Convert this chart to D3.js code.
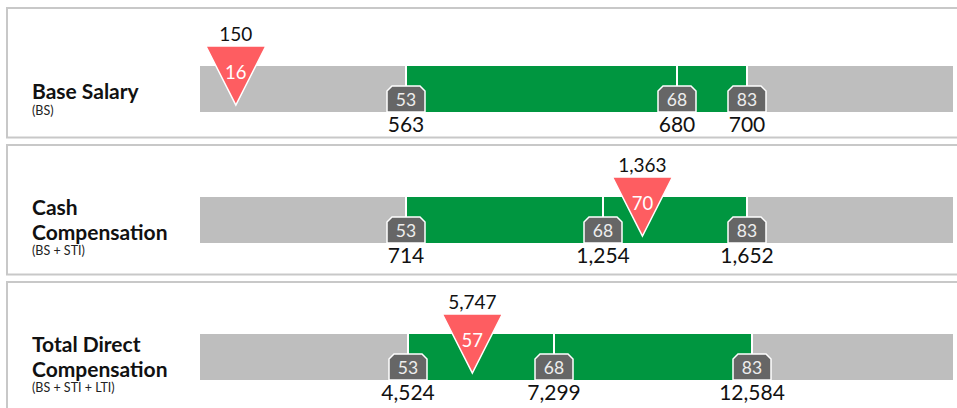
<!DOCTYPE html>
<html>
<head>
<meta charset="utf-8">
<script src="https://cdn.jsdelivr.net/npm/d3@7"></script>
<style>
  body { margin: 0; background: #fff; }
  svg { display: block; font-family: Lato, "Noto Sans", sans-serif; }
</style>
</head>
<body>
<div id="app"></div>
<script>
const titles = [["Base Salary"], ["Cash", "Compensation"], ["Total Direct", "Compensation"]];
const subtitles = ["(BS)", "(BS + STI)", "(BS + STI + LTI)"];
const percentiles = [53, 68, 83];
const marketValues = [
  [563, 680, 700],
  [714, 1254, 1652],
  [4524, 7299, 12584]
];
const scaleMin = [63, 147, 569];
const scaleMax = [759, 2219, 17950];
const employeeValues = [150, 1363, 5747];
const employeePercentiles = [16, 70, 57];

const width = 957;
const height = 408;
const barLeft = 200;
const barWidth = 753;
const barHeight = 46;
// where the P53 / P68 / P83 knots of each panel's scale sit along the bar
const knotX = [[206, 477, 547], [206, 403, 547], [208, 354, 552]];
const fmt = d3.format(",");

const svg = d3.select("#app").append("svg").attr("width", width).attr("height", height);

titles.forEach((lines, i) => {
  const top = 8 + i * 137;
  const single = lines.length === 1;
  const barTop = top + (single ? 58 : 52);
  const barBottom = barTop + barHeight;

  const x = d3.scaleLinear()
    .domain([scaleMin[i], ...marketValues[i], scaleMax[i]])
    .range([0, ...knotX[i], barWidth].map((d) => barLeft + d));

  const g = svg.append("g");

  g.append("rect")
    .attr("x", 7).attr("y", top)
    .attr("width", 1000).attr("height", 129.5)
    .attr("fill", "#fff")
    .attr("stroke", "#c8c8c8")
    .attr("stroke-width", 2);

  // title block
  const lastBase = top + (single ? 90.5 : 95);
  lines.forEach((t, j) => {
    g.append("text")
      .attr("x", 32)
      .attr("y", lastBase - (lines.length - 1 - j) * 25.5)
      .attr("font-size", 21)
      .attr("font-weight", 700)
      .attr("fill", "#111")
      .text(t);
  });
  g.append("text")
    .attr("x", 32)
    .attr("y", top + (single ? 106.5 : 109.5))
    .attr("font-size", 12.5)
    .attr("fill", "#222")
    .text(subtitles[i]);

  // grey full range and green P53-P83 band
  g.append("rect")
    .attr("x", barLeft).attr("y", barTop)
    .attr("width", barWidth).attr("height", barHeight)
    .attr("fill", "#bebebe");

  const v = marketValues[i];
  g.append("rect")
    .attr("x", x(v[0])).attr("y", barTop)
    .attr("width", x(v[2]) - x(v[0])).attr("height", barHeight)
    .attr("fill", "#009640");

  g.selectAll(".sep")
    .data(v)
    .join("line")
    .attr("x1", (d) => x(d)).attr("x2", (d) => x(d))
    .attr("y1", barTop).attr("y2", barBottom)
    .attr("stroke", "#fff")
    .attr("stroke-width", 2);

  // percentile tags
  const tw = 19, th = 26, ch = 5;
  const tags = g.selectAll(".tag")
    .data(v.map((d, k) => ({ value: d, pct: percentiles[k] })))
    .join("g")
    .attr("transform", (d) => `translate(${x(d.value)},${barBottom})`);

  tags.append("path")
    .attr("d", `M${-tw},0V${-th + ch}L${-tw + ch},${-th}H${tw - ch}L${tw},${-th + ch}V0Z`)
    .attr("fill", "#666")
    .attr("stroke", "#fff")
    .attr("stroke-width", 1.5);

  tags.append("text")
    .attr("y", -6)
    .attr("text-anchor", "middle")
    .attr("font-size", 17.5)
    .attr("fill", "#eee")
    .text((d) => d.pct);

  tags.append("text")
    .attr("y", 20)
    .attr("text-anchor", "middle")
    .attr("font-size", 21)
    .attr("fill", "#111")
    .text((d) => fmt(d.value));

  // employee position
  const ex = x(employeeValues[i]);
  const triTop = barTop - 20;
  g.append("path")
    .attr("d", `M${ex - 30},${triTop}H${ex + 30}L${ex},${triTop + 59}Z`)
    .attr("fill", "#fe5d61")
    .attr("stroke", "#fff")
    .attr("stroke-width", 1.5)
    .attr("stroke-linejoin", "miter");

  g.append("text")
    .attr("x", ex).attr("y", triTop + 33)
    .attr("text-anchor", "middle")
    .attr("font-size", 18.5)
    .attr("fill", "#fff")
    .text(employeePercentiles[i]);

  g.append("text")
    .attr("x", ex).attr("y", triTop - 5)
    .attr("text-anchor", "middle")
    .attr("font-size", 19)
    .attr("fill", "#111")
    .text(fmt(employeeValues[i]));
});
</script>
</body>
</html>
